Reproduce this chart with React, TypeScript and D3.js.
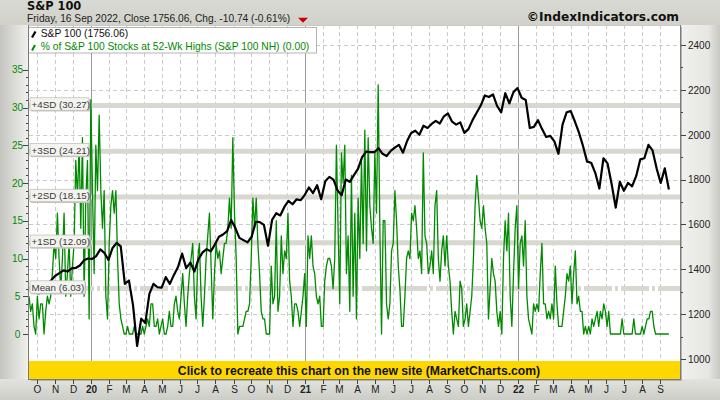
import React from "react";
import * as d3 from "d3";

// S&P 100 weekly closes (Fridays, from 20 Sep 2019 to 16 Sep 2022)
const spFirstFriday = new Date(2019, 8, 20);
const spValues: number[] = [
  1337, 1324, 1292, 1328, 1335, 1351, 1371, 1383, 1395, 1390, 1404, 1406, 1417, 1440, 1448,
  1446, 1459, 1489, 1473, 1442, 1495, 1518, 1502, 1335, 1350, 1240, 1058, 1180, 1160, 1290, 1335,
  1320, 1318, 1365, 1335, 1375, 1410, 1470, 1405, 1430, 1390, 1445, 1475, 1490, 1480, 1510, 1545,
  1555, 1570, 1620, 1585, 1540, 1530, 1520, 1545, 1612, 1610, 1598, 1505, 1620, 1650, 1640, 1678,
  1705, 1690, 1712, 1708,
  1732, 1765, 1740, 1775, 1712, 1792, 1812, 1800, 1752, 1730, 1800, 1790, 1820, 1848, 1900, 1925,
  1922, 1922, 1940, 1915, 1905, 1928, 1942, 1955, 1920, 1972, 2008, 2018, 2000, 2040, 2030, 2048,
  2062, 2050, 2082, 2095, 2058, 2045, 2055, 2008, 2025, 2065, 2098, 2130, 2175, 2168, 2180, 2128,
  2100, 2185, 2140, 2190, 2208,
  2165, 2155, 2030, 2035, 2065, 2025, 1990, 1995, 1970, 1915, 2045, 2100, 2105, 2060, 2010, 1950,
  1880, 1875, 1830, 1760, 1895, 1872, 1780, 1675, 1790, 1750, 1785, 1770, 1815, 1890, 1895, 1955,
  1930, 1850, 1785, 1850, 1756,
];

// % of S&P 100 stocks at 52-week highs, sampled evenly from 17 Sep 2019 to 16 Sep 2022
const nhFirstDate = new Date(2019, 8, 17);
const nhLastDate = new Date(2022, 8, 16);
const nhValues: number[] = [
  5, 3, 4, 1, 0, 5, 2, 4, 4, 0, 3, 5, 4, 5, 8, 12, 10, 16, 10, 6,
  10, 16, 5, 8, 12, 5, 9, 12, 23, 18, 25, 14, 26, 5, 18, 23, 2, 31, 19, 8,
  25, 19, 29, 19, 14, 19, 5, 2, 12, 17, 19, 16, 19, 10, 4, 2, 1, 0, 0, 1,
  0, 0, 0, 1, 0, 0, 0, 0, 1, 0, 1, 2, 1, 4, 4, 1, 1, 2, 0, 1,
  2, 0, 0, 1, 3, 1, 1, 4, 5, 3, 2, 5, 8, 4, 1, 5, 8, 10, 12, 5,
  2, 10, 12, 5, 1, 5, 10, 13, 16, 9, 2, 8, 12, 10, 11, 8, 10, 12, 12, 14,
  18, 14, 26, 16, 10, 0, 1, 1, 1, 2, 3, 3, 4, 10, 18, 14, 18, 12, 8, 3,
  2, 2, 0, 0, 0,
  9, 4, 5, 15, 3, 5, 13, 8, 11, 10, 16, 7, 5, 1, 4, 4, 3, 1, 3, 5,
  8, 1, 13, 10, 13, 9, 8, 5, 4, 5, 1, 1, 7, 9, 10, 10, 9, 6, 10, 25,
  14, 4, 24, 20, 25, 8, 13, 3, 21, 5, 16, 2, 18, 10, 23, 12, 27, 11, 26, 17,
  14, 12, 24, 16, 33, 14, 0, 15, 15, 4, 2, 4, 11, 12, 19, 15, 9, 6, 1, 1,
  5, 10, 11, 10, 16, 15, 17, 14, 10, 11, 8, 24, 13, 12, 8, 9, 11, 8, 17, 19,
  10, 7, 11, 13, 9, 13, 9, 7, 3, 0, 3, 2, 1, 7, 6, 1, 2, 4, 1, 3,
  5, 10, 17, 21, 18,
  15, 14, 17, 14, 12, 2, 6, 10, 8, 7, 3, 1, 3, 0, 10, 15, 11, 16, 5, 1,
  8, 14, 17, 6, 12, 13, 9, 15, 5, 2, 1, 0, 4, 3, 4, 3, 8, 12, 4, 4,
  2, 3, 2, 4, 2, 9, 4, 1, 1, 1, 3, 5, 8, 7, 9, 4, 8, 11, 4, 5,
  3, 3, 0, 1, 0, 1, 0, 2, 1, 2, 3, 1, 3, 2, 4, 3, 1, 3, 0, 0,
  0, 0, 0, 0, 0, 2, 0, 0, 0, 0, 0, 0, 2, 0, 0, 0, 0, 1, 0, 1,
  2, 2, 3, 3, 1, 0, 0, 0, 0, 0, 0, 0, 0, 0,
];

const sdLevels = [6.03, 12.09, 18.15, 24.21, 30.27];
const sdLabels = ["Mean (6.03)", "+1SD (12.09)", "+2SD (18.15)", "+3SD (24.21)", "+4SD (30.27)"];
const leftTicks = [0, 5, 10, 15, 20, 25, 30, 35];
const rightTicks = [1000, 1200, 1400, 1600, 1800, 2000, 2200, 2400];
const monthLabels = [
  "O", "N", "D", "20", "F", "M", "A", "M", "J", "J", "A", "S",
  "O", "N", "D", "21", "F", "M", "A", "M", "J", "J", "A", "S",
  "O", "N", "D", "22", "F", "M", "A", "M", "J", "J", "A", "S",
];

const title = "S&P 100";
const subtitle = "Friday, 16 Sep 2022, Close 1756.06, Chg. -10.74 (-0.61%)";
const legendItems = ["S&P 100 (1756.06)", "% of S&P 100 Stocks at 52-Wk Highs (S&P 100 NH) (0.00)"];
const credit = "©IndexIndicators.com";
const bannerText = "Click to recreate this chart on the new site (MarketCharts.com)";

const SANS = "'Liberation Sans', Arial, sans-serif";
const DV = "'DejaVu Sans', Verdana, sans-serif";
const GREEN = "#008a00";

export default function App() {
  const L = 29, R = 680, T = 25, B = 379, BANNER = 361;
  const x = d3.scaleTime().domain([new Date(2019, 8, 17), new Date(2022, 9, 5)]).range([L, R]);
  const yL = d3.scaleLinear().domain([0, 35]).range([334, 69.75]);
  const yR = d3.scaleLinear().domain([1000, 2400]).range([359, 45]);

  const spDates = spValues.map((_, i) => d3.timeDay.offset(spFirstFriday, 7 * i));
  const t0 = nhFirstDate.getTime(), t1 = nhLastDate.getTime();
  const nhDates = nhValues.map((_, i) => new Date(t0 + ((t1 - t0) * i) / (nhValues.length - 1)));

  const spPath = d3.line<number>().x((_, i) => x(spDates[i])).y((d) => yR(d))(spValues) || "";
  const nhPath = d3.line<number>().x((_, i) => x(nhDates[i])).y((d) => yL(d))(nhValues) || "";

  const months = d3.timeMonth.range(new Date(2019, 9, 1), new Date(2022, 9, 1));
  const leftMinor = d3.range(0, 36, 1);
  const rightMinor = d3.range(1000, 2401, 100);
  const sdWidths = [55, 59, 59, 59, 59];

  return (
    <svg width={720} height={400} style={{ position: "fixed", left: 0, top: 0, display: "block" }}>
      <defs>
        <linearGradient id="lg" x1="0" x2="1" y1="0" y2="0">
          <stop offset="0" stopColor="#c4c4bf" />
          <stop offset="1" stopColor="#f1f1ef" />
        </linearGradient>
        <linearGradient id="rg" x1="0" x2="1" y1="0" y2="0">
          <stop offset="0" stopColor="#f1f1ef" />
          <stop offset="0.7" stopColor="#e6e6e3" />
          <stop offset="1" stopColor="#c9c9c4" />
        </linearGradient>
        <linearGradient id="bg" x1="0" x2="0" y1="0" y2="1">
          <stop offset="0" stopColor="#e2e2de" />
          <stop offset="1" stopColor="#cdcdc8" />
        </linearGradient>
        <linearGradient id="tg" x1="0" x2="0" y1="0" y2="1">
          <stop offset="0" stopColor="#d9d9d3" />
          <stop offset="1" stopColor="#d2d2cb" />
        </linearGradient>
        <clipPath id="plotClip">
          <rect x={L} y={T} width={R - L} height={BANNER - T} />
        </clipPath>
      </defs>

      {/* backgrounds */}
      <rect x={0} y={0} width={720} height={400} fill="#d6d6d0" />
      <rect x={0} y={0} width={720} height={T} fill="url(#tg)" />
      <rect x={0} y={T} width={L} height={B - T} fill="url(#lg)" />
      <rect x={R} y={T} width={720 - R} height={B - T} fill="url(#rg)" />
      <rect x={0} y={B} width={720} height={400 - B} fill="url(#bg)" />
      <rect x={L} y={T} width={R - L} height={B - T} fill="#ffffff" />

      {/* grid */}
      <g>
        {rightTicks.filter((v) => v > 1000).map((v) => (
          <line key={"h" + v} x1={L} x2={R} y1={Math.round(yR(v)) + 0.5} y2={Math.round(yR(v)) + 0.5}
            stroke="#cbcbcb" strokeDasharray="4,3" />
        ))}
        {months.map((m, i) => {
          const xx = Math.round(x(m)) + 0.5;
          const isYear = m.getMonth() === 0;
          return (
            <line key={"v" + i} x1={xx} x2={xx} y1={T} y2={BANNER}
              stroke={isYear ? "#9a9a9a" : "#cbcbcb"} strokeDasharray={isYear ? undefined : "4,3"} />
          );
        })}
      </g>

      {/* SD bands */}
      <g>
        {sdLevels.map((v, i) => (
          <line key={"sd" + i} x1={L} x2={R} y1={yL(v)} y2={yL(v)} stroke="#d8d8d0" strokeWidth={5}
            strokeDasharray={i === 0 ? "28,3,3,3" : undefined} />
        ))}
      </g>

      {/* series */}
      <g clipPath="url(#plotClip)">
        <path d={nhPath} fill="none" stroke={GREEN} strokeWidth={1.3} strokeLinejoin="round" />
        <path d={spPath} fill="none" stroke="#000" strokeWidth={2.2} strokeLinejoin="round" />
      </g>

      {/* SD labels */}
      <g>
        {sdLevels.map((v, i) => {
          const yy = yL(v);
          const w = sdWidths[i];
          return (
            <g key={"sdl" + i}>
              <rect x={L + 2} y={yy - 6.5} width={w} height={12.5} fill="#c4c4bc" />
              <rect x={L + 1} y={yy - 7.7} width={w} height={12.5} fill="#f3f3f0" stroke="#bdbdb5" strokeWidth={0.7} />
              <text x={L + 2.5} y={yy + 2.4} fontFamily={SANS} fontSize={9.8} fill="#3a3a3a">{sdLabels[i]}</text>
            </g>
          );
        })}
      </g>

      {/* legend */}
      <g>
        <rect x={28.5} y={27.5} width={288} height={25.5} fill="#fff" stroke="#b4b4b4" />
        <line x1={32} y1={37.5} x2={35.5} y2={31.5} stroke="#000" strokeWidth={2.2} />
        <line x1={32} y1={50.5} x2={35} y2={45} stroke={GREEN} strokeWidth={2} />
        <text x={40.7} y={36.7} fontFamily={SANS} fontSize={10.3} fill="#111">{legendItems[0]}</text>
        <text x={40.7} y={50} fontFamily={SANS} fontSize={10.3} fill={GREEN}>{legendItems[1]}</text>
      </g>

      {/* banner */}
      <rect x={L} y={BANNER} width={R - L} height={B - BANNER} fill="#ffd700" />
      <text x={359} y={374.6} textAnchor="middle" fontFamily={SANS} fontWeight="bold" fontSize={12.2} fill="#111">
        {bannerText}
      </text>

      {/* frame */}
      <line x1={L} x2={R} y1={T + 0.5} y2={T + 0.5} stroke="#c8c8c8" />
      <line x1={L - 0.5} x2={L - 0.5} y1={T} y2={B + 1} stroke="#7a7a7a" />
      <line x1={R + 0.5} x2={R + 0.5} y1={T} y2={B + 1} stroke="#7a7a7a" />
      <line x1={R + 1.5} x2={R + 1.5} y1={T + 2} y2={B + 2} stroke="#b4b4ae" />
      <line x1={L} x2={R + 1} y1={B + 0.5} y2={B + 0.5} stroke="#7a7a7a" />
      <line x1={L + 2} x2={R + 2} y1={B + 1.5} y2={B + 1.5} stroke="#b4b4ae" />

      {/* left axis */}
      <g>
        {leftMinor.map((v) => (
          <line key={"lm" + v} x1={26} x2={28} y1={Math.round(yL(v)) + 0.5} y2={Math.round(yL(v)) + 0.5} stroke="#444" />
        ))}
        {leftTicks.map((v) => (
          <g key={"lt" + v}>
            <line x1={23} x2={28} y1={Math.round(yL(v)) + 0.5} y2={Math.round(yL(v)) + 0.5} stroke="#444" />
            <text x={17.5} y={yL(v) + 3.7} textAnchor="middle" fontFamily={SANS} fontSize={10} fill={GREEN}>{v}</text>
          </g>
        ))}
      </g>

      {/* right axis */}
      <g>
        {rightMinor.map((v) => (
          <line key={"rm" + v} x1={681} x2={683} y1={Math.round(yR(v)) + 0.5} y2={Math.round(yR(v)) + 0.5} stroke="#444" />
        ))}
        {rightTicks.map((v) => (
          <g key={"rt" + v}>
            <line x1={681} x2={686} y1={Math.round(yR(v)) + 0.5} y2={Math.round(yR(v)) + 0.5} stroke="#444" />
            <text x={688} y={yR(v) + 3.8} fontFamily={SANS} fontSize={10} fill="#222">{v}</text>
          </g>
        ))}
      </g>

      {/* bottom axis */}
      <g>
        {months.map((m, i) => {
          const xx = Math.round(x(m)) + 0.5;
          const isYear = m.getMonth() === 0;
          return (
            <g key={"bt" + i}>
              <line x1={xx} x2={xx} y1={B + 1} y2={B + 5} stroke="#444" />
              <text x={xx} y={392.7} textAnchor="middle" fontFamily={SANS} fontSize={10}
                fontWeight={isYear ? "bold" : "normal"} fill="#222">{monthLabels[i]}</text>
            </g>
          );
        })}
      </g>

      {/* titles */}
      <text x={27} y={10} fontFamily={DV} fontWeight="bold" fontSize={11.4} fill="#111">{title}</text>
      <text x={27} y={21.6} fontFamily={SANS} fontSize={10.2} fill="#222">{subtitle}</text>
      <path d="M298,17.8 L308,17.8 L303,22.8 Z" fill="#cc0000" />
      <text x={679} y={21.3} textAnchor="end" fontFamily={DV} fontWeight="bold" fontSize={12.2} fill="#111">{credit}</text>
    </svg>
  );
}
